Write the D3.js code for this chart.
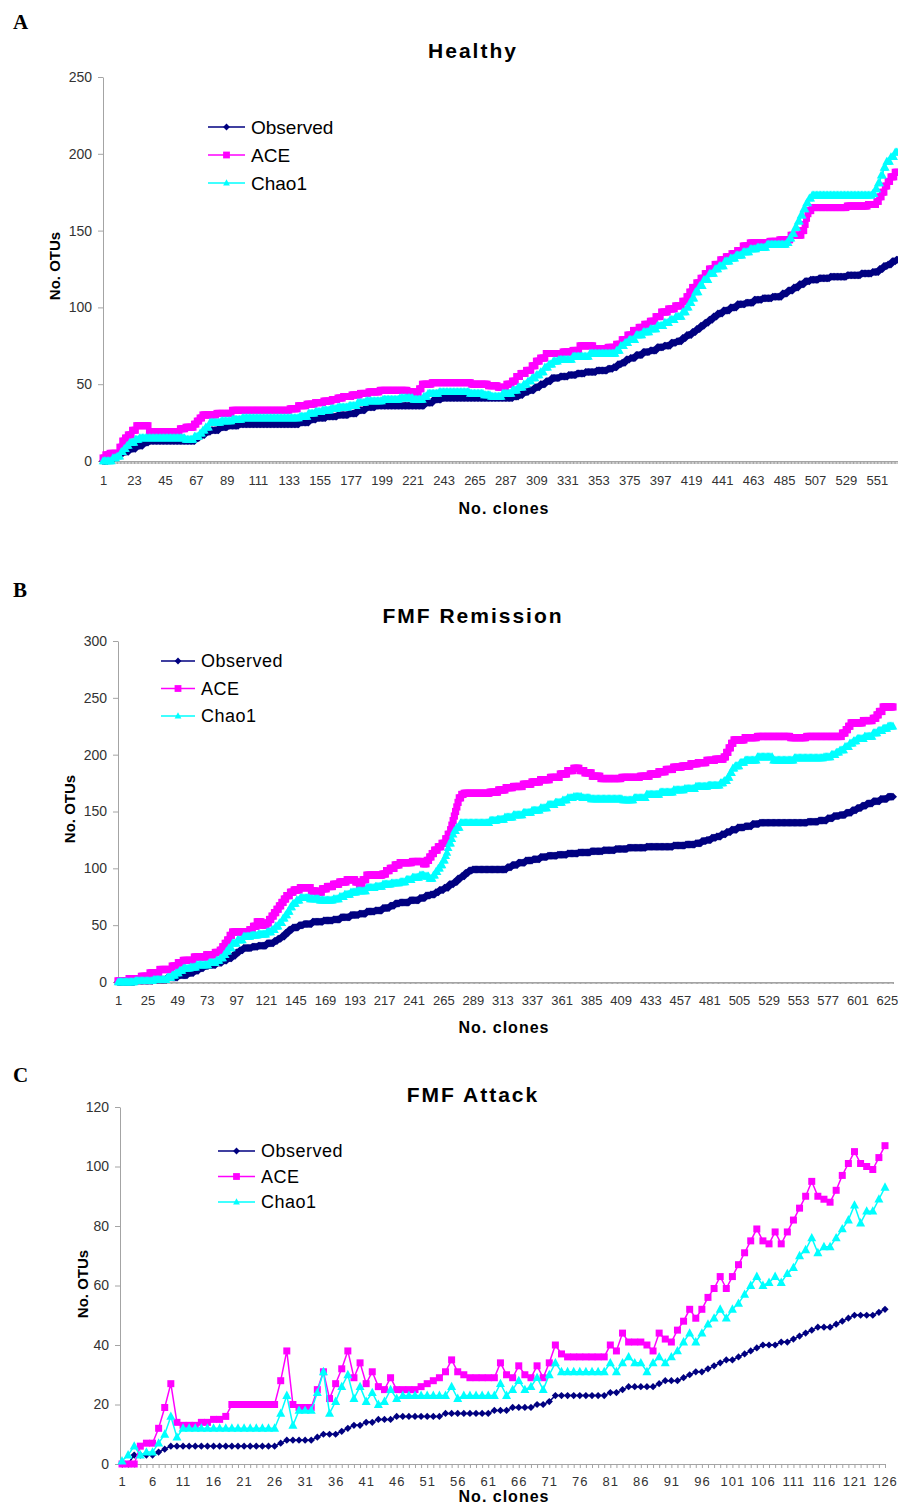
<!DOCTYPE html>
<html>
<head>
<meta charset="utf-8">
<script src="https://cdn.jsdelivr.net/npm/d3@7"></script>
<style>
body{margin:0;background:#fff;}
svg text{font-family:Arial,"Liberation Sans",sans-serif;}
.panelLetter{font-family:"Times New Roman","Liberation Serif",serif !important;font-weight:bold;font-size:21px;}
.panelTitle{font-weight:bold;font-size:21px;letter-spacing:2px;}
.axisTitle{font-weight:bold;font-size:15px;}
.xTitle{font-weight:bold;font-size:16px;letter-spacing:1px;}
.tickLabels text{fill:#333;}
.axisLine path,.axisLine line{stroke:#a4a4a4;}
</style>
</head>
<body>
<div id="chart"></div>
<script>
// series order as in the legend
const seriesNames = ["Observed", "ACE", "Chao1"];
const seriesColors = ["#000080", "#ff00ff", "#00ffff"];
const seriesMarkers = ["diamond", "square", "triangle"];

// A - Healthy: [first clone, OTUs] steps
const healthyClones = 566;
const healthyYTicks = [0, 50, 100, 150, 200, 250];
const healthyXLabels = [1,23,45,67,89,111,133,155,177,199,221,243,265,287,309,331,353,375,397,419,441,463,485,507,529,551];
const healthyObserved = [[1,0],[5,2],[10,4],[15,6],[20,8],[25,10],[30,12],[34,13],[67,15],[70,17],[74,19],[78,20],[84,22],[90,23],[98,24],[141,25],[148,27],[153,28],[160,29],[168,30],[176,31],[182,33],[188,35],[195,36],[230,38],[236,40],[242,41],[293,42],[297,43],[300,45],[304,46],[308,48],[312,50],[316,52],[320,54],[326,55],[332,56],[338,57],[344,58],[352,59],[360,60],[364,61],[367,63],[370,64],[373,66],[376,67],[380,69],[385,71],[390,72],[395,74],[400,75],[405,77],[409,78],[413,80],[416,82],[420,84],[423,86],[426,88],[429,90],[432,92],[435,94],[438,96],[442,98],[447,100],[452,102],[458,103],[464,105],[470,106],[477,107],[484,109],[488,111],[492,113],[496,115],[500,117],[504,118],[510,119],[518,120],[530,121],[540,122],[548,123],[553,125],[556,127],[559,128],[562,130],[565,131]];
const healthyAce = [[1,2],[3,4],[6,5],[13,9],[15,13],[17,15],[19,17],[22,20],[25,23],[34,19],[56,21],[60,22],[66,24],[68,26],[70,28],[72,30],[82,31],[93,33],[134,34],[140,36],[146,37],[152,38],[158,39],[164,40],[168,41],[172,42],[178,43],[184,44],[190,45],[198,46],[218,45],[224,44],[226,47],[228,50],[235,51],[263,50],[275,49],[282,48],[288,50],[292,52],[295,55],[298,57],[302,59],[306,62],[309,65],[312,67],[316,70],[328,71],[335,72],[340,75],[350,73],[360,74],[366,76],[370,79],[374,82],[378,85],[382,87],[386,89],[390,91],[394,94],[398,97],[403,99],[408,101],[413,104],[416,107],[418,110],[420,113],[423,116],[426,119],[429,122],[432,125],[436,128],[440,131],[444,133],[448,135],[452,137],[456,140],[461,142],[475,143],[482,144],[490,147],[498,150],[500,154],[501,158],[502,161],[503,163],[505,165],[530,166],[545,167],[551,169],[553,172],[555,175],[557,179],[559,182],[561,185],[564,188]];
const healthyChao1 = [[1,0],[8,2],[11,3],[14,6],[16,8],[18,10],[20,12],[24,14],[27,15],[60,14],[66,16],[70,18],[72,20],[74,22],[77,25],[85,26],[93,27],[100,28],[141,29],[147,31],[152,32],[157,33],[163,34],[168,35],[176,36],[182,38],[188,39],[200,40],[212,41],[222,40],[229,42],[232,44],[240,45],[262,44],[272,43],[277,42],[285,44],[292,46],[296,48],[300,50],[303,52],[306,54],[309,56],[312,58],[315,61],[318,63],[321,65],[325,66],[335,68],[347,70],[366,72],[369,75],[372,77],[375,79],[380,82],[385,84],[390,86],[395,88],[400,90],[404,92],[408,94],[413,97],[416,100],[418,103],[420,106],[422,110],[425,114],[428,118],[432,122],[436,125],[439,127],[443,130],[447,132],[451,134],[456,136],[461,138],[466,139],[473,141],[487,142],[489,145],[491,148],[493,152],[495,156],[497,160],[499,164],[501,168],[503,171],[505,173],[548,174],[550,177],[552,181],[554,186],[556,191],[558,195],[561,198],[564,201]];

// B - FMF Remission
const remissionClones = 630;
const remissionYTicks = [0, 50, 100, 150, 200, 250, 300];
const remissionXLabels = [1,25,49,73,97,121,145,169,193,217,241,265,289,313,337,361,385,409,433,457,481,505,529,553,577,601,625];
const remissionObserved = [[1,0],[15,1],[30,2],[41,4],[50,6],[58,8],[63,10],[67,12],[71,14],[75,15],[81,17],[86,19],[90,21],[94,23],[97,26],[100,28],[103,30],[110,31],[115,32],[122,34],[128,36],[131,38],[134,40],[137,43],[140,46],[143,48],[148,50],[152,51],[159,53],[168,54],[176,55],[182,57],[190,59],[197,60],[203,62],[210,63],[216,65],[222,67],[226,69],[230,70],[238,72],[246,74],[251,76],[255,77],[259,79],[262,81],[266,83],[270,86],[274,88],[277,91],[280,93],[283,96],[286,98],[289,99],[317,101],[321,103],[326,105],[332,107],[338,108],[344,110],[350,111],[358,112],[366,113],[375,114],[385,115],[395,116],[405,117],[415,118],[430,119],[452,120],[462,121],[470,122],[475,124],[479,125],[483,127],[487,128],[491,130],[495,132],[499,134],[504,136],[510,137],[516,139],[522,140],[561,141],[570,142],[577,144],[582,146],[587,147],[592,149],[597,151],[601,153],[605,155],[609,157],[614,159],[620,161],[626,163]];
const remissionAce = [[1,1],[10,3],[20,5],[27,8],[35,11],[45,14],[50,17],[54,19],[63,22],[73,24],[80,26],[84,28],[86,31],[88,34],[90,37],[92,41],[94,44],[108,46],[111,49],[114,53],[118,50],[122,52],[124,55],[126,58],[128,61],[130,64],[132,67],[134,70],[136,73],[138,76],[141,79],[144,81],[149,83],[158,80],[163,79],[167,82],[171,84],[176,86],[181,88],[187,90],[194,88],[197,85],[200,90],[203,94],[216,95],[219,98],[222,100],[226,103],[230,105],[240,106],[249,104],[252,107],[254,110],[256,113],[258,116],[261,119],[264,122],[267,126],[269,130],[271,134],[272,138],[273,142],[274,146],[275,150],[276,154],[277,158],[278,162],[280,165],[282,166],[303,167],[310,169],[316,171],[322,172],[330,174],[337,176],[344,178],[352,180],[360,183],[366,186],[371,188],[376,186],[380,184],[386,181],[393,179],[410,180],[425,181],[433,183],[440,185],[446,187],[452,189],[459,190],[466,192],[472,193],[479,195],[486,196],[493,198],[495,202],[497,206],[499,210],[501,213],[510,215],[520,216],[547,215],[560,216],[587,216],[589,219],[592,222],[594,225],[596,228],[606,230],[614,232],[617,235],[619,238],[622,242]];
const remissionChao1 = [[1,0],[15,1],[30,2],[41,4],[45,6],[48,8],[51,10],[54,12],[60,13],[65,15],[75,17],[81,19],[84,21],[87,24],[89,27],[91,30],[94,34],[98,37],[103,40],[109,41],[115,42],[122,44],[126,46],[129,49],[132,52],[135,56],[137,59],[139,62],[141,66],[143,69],[146,72],[149,74],[157,73],[165,72],[176,73],[181,75],[185,77],[190,79],[195,80],[203,83],[210,84],[216,86],[223,87],[230,88],[235,90],[240,92],[246,94],[250,93],[254,91],[257,94],[259,97],[261,100],[263,103],[265,107],[267,111],[268,114],[269,118],[270,122],[272,126],[273,130],[274,133],[276,136],[279,140],[303,142],[309,143],[315,145],[322,147],[330,149],[337,151],[344,153],[350,156],[356,158],[362,160],[366,162],[371,163],[378,162],[385,161],[411,160],[420,162],[430,165],[441,167],[452,169],[461,170],[470,172],[480,173],[490,175],[493,177],[496,180],[498,184],[500,188],[502,190],[506,193],[510,195],[520,198],[533,195],[550,197],[574,198],[580,200],[584,202],[587,204],[591,207],[595,210],[598,212],[601,214],[607,216],[614,219],[618,221],[622,223],[626,225]];

// C - FMF Attack: one value per clone
const attackClones = 126;
const attackYTicks = [0, 20, 40, 60, 80, 100, 120];
const attackXLabels = [1,6,11,16,21,26,31,36,41,46,51,56,61,66,71,76,81,86,91,96,101,106,111,116,121,126];
const attackObserved = [0,0,3,3,3,3,4,5,6,6, 6,6,6,6,6,6,6,6,6,6, 6,6,6,6,6,6,7,8,8,8, 8,8,9,10,10,10,11,12,13,13, 14,14,15,15,15,16,16,16,16,16, 16,16,16,17,17,17,17,17,17,17, 17,18,18,18,19,19,19,19,20,20, 21,23,23,23,23,23,23,23,23,23, 24,24,25,26,26,26,26,26,27,28, 28,28,29,30,31,31,32,33,34,35, 35,36,37,38,39,40,40,40,41,41, 42,43,44,45,46,46,46,47,48,49, 50,50,50,50,51,52];
const attackAce = [0,0,0,6,7,7,12,19,27,14, 13,13,13,14,14,15,15,16,20,20, 20,20,20,20,20,20,28,38,20,19, 19,19,25,31,22,27,32,38,29,34, 27,31,26,25,29,25,25,25,25,26, 27,28,29,31,35,31,30,29,29,29, 29,29,34,30,29,33,30,29,33,29, 34,40,37,36,36,36,36,36,36,36, 40,38,44,41,41,41,40,38,44,42, 41,45,48,52,49,52,56,59,63,59, 63,67,71,75,79,75,74,78,74,78, 82,86,90,95,90,89,88,92,97,101, 105,101,100,99,103,107];
const attackChao1 = [1,3,6,3,4,4,7,10,16,9, 12,12,12,12,12,12,12,12,12,12, 12,12,12,12,12,12,17,23,13,18, 18,18,24,31,17,21,26,30,22,26, 21,24,20,21,25,22,23,23,23,23, 23,23,23,23,26,22,23,23,23,23, 23,23,27,23,25,28,25,26,29,25, 30,34,31,31,31,31,31,31,31,31, 34,31,34,36,34,34,31,34,36,34, 36,38,41,44,41,44,47,49,52,49, 52,54,57,60,63,60,61,63,61,64, 66,70,72,76,71,73,73,76,79,82, 87,81,85,85,89,93];

function expandSteps(steps, n){
    const out = [];
    let j = 0;
    for(let c = 1; c <= n; c++){
        while(j + 1 < steps.length && steps[j+1][0] <= c){ j++; }
        out.push({clone: c, value: steps[j][1]});
    }
    return out;
}

function perClone(values){
    return values.map((v,i)=>({clone: i + 1, value: v}));
}

function markerPath(type, r){
    if(type === "diamond"){
        return "M0," + (-r) + "L" + r + ",0L0," + r + "L" + (-r) + ",0Z";
    }
    if(type === "square"){
        return "M" + (-r) + "," + (-r) + "H" + r + "V" + r + "H" + (-r) + "Z";
    }
    return "M0," + (-r*1.1) + "L" + r + "," + (r*0.75) + "L" + (-r) + "," + (r*0.75) + "Z";
}

const svg = d3.select("#chart").append("svg")
    .attr("width", 898)
    .attr("height", 1507);

const panels = [
    {
        letter: "A", letterY: 29, title: "Healthy", titleY: 58,
        clones: healthyClones, xRange: [103, 898], yRange: [461, 77], yMax: 250,
        yTicks: healthyYTicks, xLabels: healthyXLabels,
        series: [expandSteps(healthyObserved, healthyClones), expandSteps(healthyAce, healthyClones), expandSteps(healthyChao1, healthyClones)],
        yTitle: [60, 266], xTitleY: 514, labelPad: 15,
        legend: {x: 208, y: 127, gap: 28, len: 37, font: 19},
        markerR: [4, 3.5, 4.3], tickLen: 3
    },
    {
        letter: "B", letterY: 597, title: "FMF Remission", titleY: 623,
        clones: remissionClones, xRange: [118, 893], yRange: [982, 641], yMax: 300,
        yTicks: remissionYTicks, xLabels: remissionXLabels,
        series: [expandSteps(remissionObserved, remissionClones), expandSteps(remissionAce, remissionClones), expandSteps(remissionChao1, remissionClones)],
        yTitle: [75, 809], xTitleY: 1033, labelPad: 14,
        legend: {x: 161, y: 661, gap: 27.5, len: 34, font: 18},
        markerR: [4, 3.6, 4.3], tickLen: 2
    },
    {
        letter: "C", letterY: 1082, title: "FMF Attack", titleY: 1102,
        clones: attackClones, xRange: [122, 885], yRange: [1464, 1107], yMax: 120,
        yTicks: attackYTicks, xLabels: attackXLabels,
        series: [perClone(attackObserved), perClone(attackAce), perClone(attackChao1)],
        yTitle: [88, 1284], xTitleY: 1502, labelPad: 13,
        legend: {x: 218, y: 1151, gap: 25.5, len: 37, font: 18},
        markerR: [3.6, 3.5, 4.5], tickLen: 4
    }
];

panels.forEach(p=>{
    const g = svg.append("g").attr("class","panel" + p.letter);
    const x = d3.scaleLinear().domain([1, p.clones]).range(p.xRange);
    const y = d3.scaleLinear().domain([0, p.yMax]).range(p.yRange);
    const axisX = p.xRange[0] - (p.letter === "C" ? 2 : 0);

    g.append("text")
        .attr("class","panelLetter")
        .attr("x",13)
        .attr("y",p.letterY)
        .text(p.letter)
    ;
    g.append("text")
        .attr("class","panelTitle")
        .attr("x",473)
        .attr("y",p.titleY)
        .attr("text-anchor","middle")
        .text(p.title)
    ;

    // y axis
    g.append("g")
        .attr("class","axisLine tickLabels")
        .attr("transform","translate(" + axisX + ",0)")
        .call(d3.axisLeft(y).tickValues(p.yTicks).tickSize(5).tickSizeOuter(0).tickPadding(6))
        .call(a=>a.selectAll("text").style("font-size","14px"))
    ;

    // x axis: a tick for every clone, labels on a second pass
    g.append("g")
        .attr("class","axisLine")
        .attr("transform","translate(0," + p.yRange[0] + ")")
        .call(d3.axisBottom(x).tickValues(d3.range(1, p.clones + 1)).tickSize(p.tickLen).tickSizeOuter(0).tickFormat(""))
        .call(a=>a.select(".domain").attr("d","M" + axisX + ",0.5H" + p.xRange[1]))
    ;
    g.append("g")
        .attr("class","tickLabels")
        .attr("transform","translate(0," + p.yRange[0] + ")")
        .call(d3.axisBottom(x).tickValues(p.xLabels).tickSize(0).tickPadding(p.labelPad))
        .call(a=>a.select(".domain").remove())
        .call(a=>a.selectAll("text").style("font-size","13px").style("letter-spacing", p.letter === "C" ? "1px" : "0px"))
    ;

    g.append("text")
        .attr("class","axisTitle")
        .attr("transform","translate(" + p.yTitle[0] + "," + p.yTitle[1] + ") rotate(-90)")
        .attr("text-anchor","middle")
        .text("No. OTUs")
    ;
    g.append("text")
        .attr("class","xTitle")
        .attr("x",504)
        .attr("y",p.xTitleY)
        .attr("text-anchor","middle")
        .text("No. clones")
    ;

    const line = d3.line()
        .x(d=>x(d.clone))
        .y(d=>y(d.value));

    p.series.forEach((data,i)=>{
        const sg = g.append("g").attr("class","series");
        sg.append("path")
            .datum(data)
            .attr("fill","none")
            .attr("stroke",seriesColors[i])
            .attr("stroke-width",1.5)
            .attr("d",line)
        ;
        sg.selectAll(".marker")
            .data(data)
            .join("path")
            .attr("class","marker")
            .attr("transform",d=>"translate(" + x(d.clone) + "," + y(d.value) + ")")
            .attr("d",markerPath(seriesMarkers[i], p.markerR[i]))
            .attr("fill",seriesColors[i])
        ;
    });

    // legend
    const lg = g.append("g").attr("class","legend");
    seriesNames.forEach((name,i)=>{
        const ly = p.legend.y + i * p.legend.gap;
        lg.append("line")
            .attr("x1",p.legend.x)
            .attr("x2",p.legend.x + p.legend.len)
            .attr("y1",ly)
            .attr("y2",ly)
            .attr("stroke",seriesColors[i])
            .attr("stroke-width",1.5)
        ;
        lg.append("path")
            .attr("transform","translate(" + (p.legend.x + p.legend.len / 2) + "," + ly + ")")
            .attr("d",markerPath(seriesMarkers[i], 3.4))
            .attr("fill",seriesColors[i])
        ;
        lg.append("text")
            .attr("x",p.legend.x + p.legend.len + 6)
            .attr("y",ly)
            .attr("dy","0.36em")
            .style("font-size",p.legend.font + "px")
            .style("letter-spacing", p.letter === "A" ? "0px" : "0.5px")
            .text(name)
        ;
    });
});
</script>
</body>
</html>
